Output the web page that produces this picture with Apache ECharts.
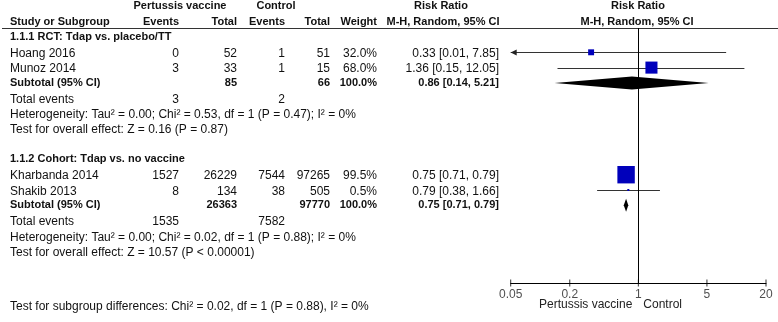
<!DOCTYPE html>
<html><head><meta charset="utf-8">
<script src="https://cdn.jsdelivr.net/npm/echarts@6/dist/echarts.min.js"></script>
<style>html,body{margin:0;padding:0;background:#fff}#c{width:778px;height:322px}</style>
</head><body><div id="c"></div>
<script>
// ---------- data ----------
const studies = ['Hoang 2016', 'Munoz 2014', 'Kharbanda 2014', 'Shakib 2013'];
const studyGroup = [0, 0, 1, 1];
const vacEvents = [0, 3, 1527, 8];
const vacTotal = [52, 33, 26229, 134];
const ctlEvents = [1, 1, 7544, 38];
const ctlTotal = [51, 15, 97265, 505];
const weights = [32.0, 68.0, 99.5, 0.5];
const rr = [0.33, 1.36, 0.75, 0.79];
const rrLow = [0.01, 0.15, 0.71, 0.38];
const rrHigh = [7.85, 12.05, 0.79, 1.66];

const subgroups = ['1.1.1 RCT: Tdap vs. placebo/TT', '1.1.2 Cohort: Tdap vs. no vaccine'];
const subVacTotal = [85, 26363];
const subCtlTotal = [66, 97770];
const subWeight = [100.0, 100.0];
const subRR = [0.86, 0.75];
const subLow = [0.14, 0.71];
const subHigh = [5.21, 0.79];
const subVacEvents = [3, 1535];
const subCtlEvents = [2, 7582];
const heterogeneity = [
  'Heterogeneity: Tau\u00b2 = 0.00; Chi\u00b2 = 0.53, df = 1 (P = 0.47); I\u00b2 = 0%',
  'Heterogeneity: Tau\u00b2 = 0.00; Chi\u00b2 = 0.02, df = 1 (P = 0.88); I\u00b2 = 0%'
];
const overallEffect = [
  'Test for overall effect: Z = 0.16 (P = 0.87)',
  'Test for overall effect: Z = 10.57 (P < 0.00001)'
];
const subgroupTest = 'Test for subgroup differences: Chi\u00b2 = 0.02, df = 1 (P = 0.88), I\u00b2 = 0%';
const tickValues = [0.05, 0.2, 1, 5, 20];
const tickLabels = ['0.05', '0.2', '1', '5', '20'];

// ---------- layout ----------
const FONT = "'Liberation Sans', Arial, sans-serif";
const GROUP_ROWS = 8;
const rowsPerStudy = [];
{ const cnt = [0, 0]; studies.forEach((s, i) => { const g = studyGroup[i]; cnt[g]++; rowsPerStudy.push(g * GROUP_ROWS + cnt[g]); }); }
const Y_MIN = -0.588, Y_MAX = 16.078;

const chart = echarts.init(document.getElementById('c'), null, {renderer: 'canvas'});

const forestData = [];
studies.forEach((s, i) => forestData.push([rr[i], rrLow[i], rrHigh[i], rowsPerStudy[i], weights[i], 0]));
subgroups.forEach((s, g) => forestData.push([subRR[g], subLow[g], subHigh[g], g * GROUP_ROWS + 3, subWeight[g], 1]));

chart.setOption({
  animation: false,
  backgroundColor: '#fff',
  grid: {left: 510.7, right: 12, top: 28, bottom: 39},
  xAxis: {
    type: 'log', logBase: 10, min: 0.05, max: 20,
    axisLine: {show: true, onZero: false, lineStyle: {color: '#000', width: 1}},
    axisTick: {show: false}, axisLabel: {show: false}, splitLine: {show: false}
  },
  yAxis: {type: 'value', inverse: true, min: Y_MIN, max: Y_MAX, show: false},
  series: [
    {
      type: 'scatter', clip: false, silent: true,
      data: tickValues.map((v, i) => ({value: [v, Y_MAX], label: {formatter: tickLabels[i]}})),
      symbol: 'rect', symbolSize: [1, 7],
      itemStyle: {color: '#000'},
      label: {show: true, position: 'bottom', distance: 2, color: '#222', fontSize: 12, fontFamily: FONT},
      markLine: {
        silent: true, symbol: 'none', animation: false,
        lineStyle: {color: '#000', width: 1, type: 'solid'},
        label: {show: false},
        data: [{xAxis: 1}]
      },
      z: 3
    },
    {
      type: 'custom', clip: false, silent: true,
      data: forestData,
      renderItem: function (params, api) {
        const est = api.value(0), lo = api.value(1), hi = api.value(2), row = api.value(3), w = api.value(4), kind = api.value(5);
        const cs = params.coordSys;
        const xmin = cs.x, xmax = cs.x + cs.width;
        const pe = api.coord([est, row]);
        const pl = api.coord([lo, row]);
        const ph = api.coord([hi, row]);
        if (kind === 0) {
          const y = Math.round(pe[1]) + 0.5;
          const x1 = Math.max(pl[0], xmin), x2 = Math.min(ph[0], xmax);
          const children = [{type: 'line', shape: {x1: x1, y1: y, x2: x2, y2: y}, style: {stroke: '#333', lineWidth: 1}}];
          if (pl[0] < xmin) children.push({type: 'polygon', shape: {points: [[xmin, y], [xmin + 6, y - 3], [xmin + 6, y + 3]]}, style: {fill: '#222'}});
          if (ph[0] > xmax) children.push({type: 'polygon', shape: {points: [[xmax, y], [xmax - 6, y - 3], [xmax - 6, y + 3]]}, style: {fill: '#222'}});
          const s = Math.max(2, 0.17 * w + 0.5);
          children.push({type: 'rect', shape: {x: pe[0] - s / 2, y: pe[1] - s / 2, width: s, height: s}, style: {fill: '#0000bb'}});
          return {type: 'group', children: children};
        }
        const h = 6.5;
        return {type: 'polygon', shape: {points: [[pl[0], pe[1]], [pe[0], pe[1] - h], [ph[0], pe[1]], [pe[0], pe[1] + h]]}, style: {fill: '#000'}};
      },
      z: 4
    }
  ]
});

// ---------- table text ----------
function rowPx(r) { return chart.convertToPixel({yAxisIndex: 0}, r); }
const texts = [];
function T(x, r, text, align, bold, off) {
  texts.push({x: x, r: r, text: String(text), align: align, bold: bold, off: off === undefined ? (bold ? 0 : 1.3) : off});
}
const fmtRR = (e, l, h) => e.toFixed(2) + ' [' + l.toFixed(2) + ', ' + h.toFixed(2) + ']';
const COL = {name: 10, vE: 179, vT: 237, cE: 285, cT: 330, w: 377, rr: 499};

// headers
T(180, -2, 'Pertussis vaccine', 'center', true, 0);
T(276, -2, 'Control', 'center', true, 0);
T(441, -2, 'Risk Ratio', 'center', true, 0);
T(638, -2, 'Risk Ratio', 'center', true, 0);
T(COL.name, -1, 'Study or Subgroup', 'left', true, 0);
T(COL.vE, -1, 'Events', 'right', true, 0);
T(COL.vT, -1, 'Total', 'right', true, 0);
T(COL.cE, -1, 'Events', 'right', true, 0);
T(COL.cT, -1, 'Total', 'right', true, 0);
T(COL.w, -1, 'Weight', 'right', true, 0);
T(443, -1, 'M-H, Random, 95% CI', 'center', true, 0);
T(637, -1, 'M-H, Random, 95% CI', 'center', true, 0);

subgroups.forEach((name, g) => {
  const base = g * GROUP_ROWS;
  T(COL.name, base, name, 'left', true);
  T(COL.name, base + 3, 'Subtotal (95% CI)', 'left', true);
  T(COL.vT, base + 3, subVacTotal[g], 'right', true);
  T(COL.cT, base + 3, subCtlTotal[g], 'right', true);
  T(COL.w, base + 3, subWeight[g].toFixed(1) + '%', 'right', true);
  T(COL.rr, base + 3, fmtRR(subRR[g], subLow[g], subHigh[g]), 'right', true);
  T(COL.name, base + 4, 'Total events', 'left', false);
  T(COL.vE, base + 4, subVacEvents[g], 'right', false);
  T(COL.cE, base + 4, subCtlEvents[g], 'right', false);
  T(COL.name, base + 5, heterogeneity[g], 'left', false);
  T(COL.name, base + 6, overallEffect[g], 'left', false);
});
studies.forEach((name, i) => {
  const r = rowsPerStudy[i];
  T(COL.name, r, name, 'left', false);
  T(COL.vE, r, vacEvents[i], 'right', false);
  T(COL.vT, r, vacTotal[i], 'right', false);
  T(COL.cE, r, ctlEvents[i], 'right', false);
  T(COL.cT, r, ctlTotal[i], 'right', false);
  T(COL.w, r, weights[i].toFixed(1) + '%', 'right', false);
  T(COL.rr, r, fmtRR(rr[i], rrLow[i], rrHigh[i]), 'right', false);
});
T(COL.name, 17.56, subgroupTest, 'left', false);

const graphics = texts.map(t => ({
  type: 'text', x: t.x, y: rowPx(t.r) + t.off, silent: true,
  style: {
    text: t.text, fill: '#111',
    font: (t.bold ? 'bold 11px ' : '12px ') + FONT,
    align: t.align, verticalAlign: 'middle', textAlign: t.align, textVerticalAlign: 'middle'
  }
}));
// header rule
graphics.push({type: 'line', silent: true, shape: {x1: 2, y1: 28.5, x2: 778, y2: 28.5}, style: {stroke: '#333', lineWidth: 1}});
// direction labels under the axis
const oneX = chart.convertToPixel({xAxisIndex: 0}, 1);
const axisY = rowPx(Y_MAX);
graphics.push({type: 'text', x: oneX - 6, y: axisY + 22, silent: true, style: {text: 'Pertussis vaccine', fill: '#222', font: '12px ' + FONT, align: 'right', verticalAlign: 'middle', textAlign: 'right', textVerticalAlign: 'middle'}});
graphics.push({type: 'text', x: oneX + 5, y: axisY + 22, silent: true, style: {text: 'Control', fill: '#222', font: '12px ' + FONT, align: 'left', verticalAlign: 'middle', textAlign: 'left', textVerticalAlign: 'middle'}});

chart.setOption({graphic: {elements: graphics}});
</script>
</body></html>
